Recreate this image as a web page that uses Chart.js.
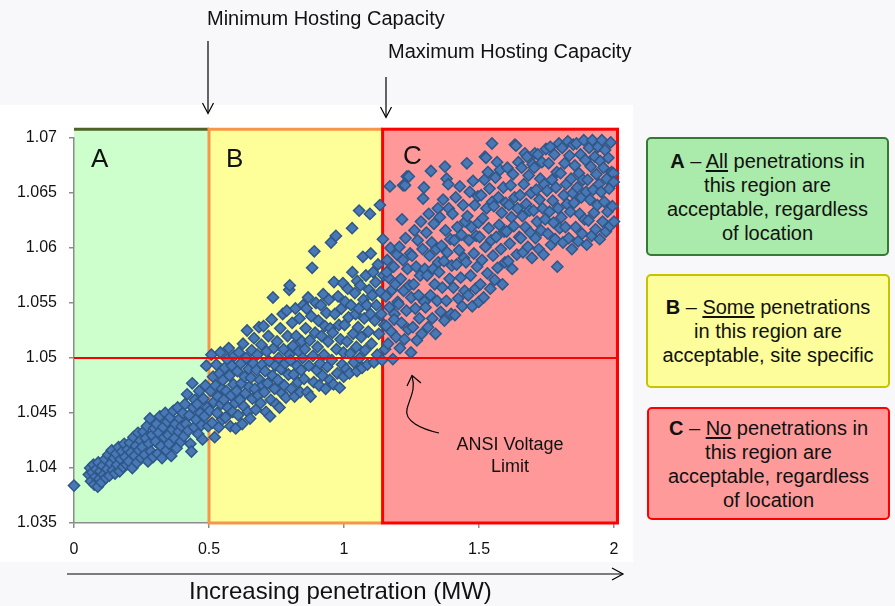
<!DOCTYPE html>
<html><head><meta charset="utf-8">
<script src="https://cdn.jsdelivr.net/npm/chart.js@4.4.1/dist/chart.umd.min.js"></script>
<style>
html,body{margin:0;padding:0;}
body{width:895px;height:606px;position:relative;overflow:hidden;background:#f8f8fb;font-family:"Liberation Sans",Arial,sans-serif;color:#111;}
#panel{position:absolute;left:0;top:105px;width:633px;height:457px;background:#fff;}
#c{position:absolute;left:0;top:0;}
.t{position:absolute;white-space:nowrap;}
.box{position:absolute;box-sizing:border-box;border-radius:5px;border:2px solid;display:flex;align-items:center;justify-content:center;text-align:center;font-size:20px;line-height:24px;}
.box u{text-decoration:underline;text-underline-offset:2px;}
svg{position:absolute;left:0;top:0;}
</style></head><body>
<div id="panel"></div>
<canvas id="c" width="640" height="606"></canvas>

<div class="t" style="left:207px;top:8px;font-size:20px;line-height:20px;">Minimum Hosting Capacity</div>
<div class="t" style="left:388px;top:41px;font-size:20px;line-height:20px;">Maximum Hosting Capacity</div>
<div class="t" style="left:189px;top:579px;font-size:24px;line-height:24px;">Increasing penetration (MW)</div>
<div class="t" style="left:91px;top:145px;font-size:26px;line-height:26px;">A</div>
<div class="t" style="left:226px;top:145px;font-size:26px;line-height:26px;">B</div>
<div class="t" style="left:403px;top:142px;font-size:26px;line-height:26px;">C</div>
<div class="t" style="left:430px;top:433px;width:160px;text-align:center;font-size:18px;line-height:22px;">ANSI Voltage<br>Limit</div>

<div class="box" style="left:646px;top:137px;width:243px;height:119px;background:#aaeaaa;border-color:#347a34;"><div><b>A</b> – <u>All</u> penetrations in<br>this region are<br>acceptable, regardless<br>of location</div></div>
<div class="box" style="left:646px;top:274px;width:244px;height:114px;background:#fdfd9b;border-color:#c4c400;"><div><b>B</b> – <u>Some</u> penetrations<br>in this region are<br>acceptable, site specific</div></div>
<div class="box" style="left:647px;top:407px;width:243px;height:113px;background:#ff9a9a;border-color:#ff0000;"><div><b>C</b> – <u>No</u> penetrations in<br>this region are<br>acceptable, regardless<br>of location</div></div>

<svg width="895" height="606" viewBox="0 0 895 606">
<g stroke="#000" stroke-width="1.2" fill="none">
<line x1="208" y1="41" x2="208" y2="113"/>
<polyline points="202.5,103 208,113.5 213.5,103"/>
<line x1="386" y1="77" x2="386" y2="117"/>
<polyline points="380.5,107 386,117.5 391.5,107"/>
<line x1="67" y1="574" x2="623" y2="574"/>
<polyline points="612,568 623,574 612,580"/>
<path d="M439,433 C421,429 404,421 407,409 C410,397 416,390 412,376"/>
<polyline points="407,386 412,375.5 421,383"/>
</g>
</svg>

<script>
// ---- data ----
const xTicks = [0, 0.5, 1, 1.5, 2];
const xTickLabels = ['0', '0.5', '1', '1.5', '2'];
const yTicks = [1.035, 1.04, 1.045, 1.05, 1.055, 1.06, 1.065, 1.07];
const yTickLabels = ['1.035', '1.04', '1.045', '1.05', '1.055', '1.06', '1.065', '1.07'];
const xMin = 0, xMax = 2, yMin = 1.035, yMax = 1.07;
const regionBounds = [0, 0.5, 1.143, 2.013];   // A | B | C  (MW)
const regionTopValue = 1.0708;
const ansiLimit = 1.05;

const ptsA = [
[0.000,1.0384],[0.055,1.0394],[0.060,1.0400],[0.063,1.0388],[0.068,1.0396],[0.072,1.0403],[0.075,1.0385],[0.080,1.0392],[0.083,1.0399],[0.088,1.0383],[0.090,1.0405],[0.094,1.0390],[0.098,1.0397],
[0.102,1.0387],[0.106,1.0402],[0.110,1.0394],[0.115,1.0408],[0.118,1.0391],[0.123,1.0399],[0.127,1.0412],[0.131,1.0393],[0.136,1.0404],[0.140,1.0416],[0.144,1.0398],[0.148,1.0409],
[0.152,1.0395],[0.156,1.0413],[0.160,1.0403],[0.165,1.0419],[0.169,1.0397],[0.173,1.0408],[0.178,1.0415],[0.182,1.0401],[0.186,1.0422],[0.190,1.0410],[0.195,1.0403],[0.199,1.0417],
[0.203,1.0406],[0.207,1.0423],[0.211,1.0414],[0.216,1.0400],[0.220,1.0428],[0.224,1.0411],[0.229,1.0420],[0.233,1.0405],[0.237,1.0432],[0.241,1.0416],[0.246,1.0425],[0.249,1.0409],
[0.253,1.0419],[0.257,1.0433],[0.262,1.0412],[0.266,1.0427],[0.270,1.0438],[0.274,1.0406],[0.278,1.0422],[0.281,1.0445],[0.285,1.0415],[0.289,1.0430],[0.293,1.0410],[0.297,1.0436],
[0.302,1.0424],[0.306,1.0440],[0.310,1.0413],[0.314,1.0432],[0.318,1.0447],[0.322,1.0420],[0.326,1.0409],[0.330,1.0437],[0.334,1.0428],[0.338,1.0450],[0.342,1.0416],[0.346,1.0442],[0.349,1.0430],
[0.352,1.0422],[0.356,1.0446],[0.360,1.0411],[0.364,1.0435],[0.368,1.0452],[0.372,1.0427],[0.376,1.0440],[0.380,1.0418],[0.384,1.0455],[0.388,1.0433],[0.392,1.0445],[0.396,1.0424],[0.399,1.0438],
[0.403,1.0450],[0.407,1.0429],[0.411,1.0458],[0.415,1.0440],[0.419,1.0467],[0.423,1.0434],[0.427,1.0448],[0.431,1.0422],[0.435,1.0415],[0.438,1.0477],[0.441,1.0455],[0.445,1.0437],[0.448,1.0462],
[0.452,1.0444],[0.456,1.0458],[0.460,1.0431],[0.464,1.0470],[0.468,1.0450],[0.472,1.0439],[0.476,1.0426],[0.479,1.0463],[0.483,1.0447],[0.487,1.0475],[0.490,1.0493],[0.493,1.0455],[0.497,1.0438]
];
const ptsB1 = [
[0.503,1.0452],[0.506,1.0470],[0.509,1.0503],[0.512,1.0441],[0.515,1.0483],[0.518,1.0460],[0.521,1.0428],[0.524,1.0475],[0.527,1.0494],[0.530,1.0450],[0.533,1.0465],[0.536,1.0437],[0.539,1.0486],[0.542,1.0505],[0.545,1.0458],[0.548,1.0472],[0.549,1.0444],
[0.552,1.0480],[0.555,1.0462],[0.558,1.0491],[0.561,1.0446],[0.564,1.0470],[0.567,1.0499],[0.570,1.0455],[0.573,1.0509],[0.576,1.0484],[0.579,1.0438],[0.582,1.0466],[0.585,1.0493],[0.588,1.0451],[0.591,1.0476],[0.594,1.0502],[0.597,1.0459],[0.599,1.0436],
[0.602,1.0470],[0.605,1.0488],[0.608,1.0448],[0.611,1.0505],[0.614,1.0462],[0.617,1.0495],[0.620,1.0477],[0.623,1.0440],[0.626,1.0513],[0.629,1.0456],[0.632,1.0483],[0.635,1.0468],[0.638,1.0500],[0.641,1.0525],[0.644,1.0451],[0.647,1.0490],[0.649,1.0474],
[0.652,1.0445],[0.655,1.0482],[0.658,1.0507],[0.661,1.0463],[0.664,1.0495],[0.667,1.0518],[0.670,1.0472],[0.673,1.0453],[0.676,1.0489],[0.679,1.0503],[0.682,1.0466],[0.685,1.0528],[0.688,1.0480],[0.691,1.0459],[0.694,1.0512],[0.697,1.0494],[0.699,1.0475],
[0.702,1.0529],[0.705,1.0469],[0.708,1.0488],[0.711,1.0451],[0.714,1.0506],[0.717,1.0477],[0.720,1.0520],[0.723,1.0497],[0.726,1.0447],[0.729,1.0462],[0.732,1.0535],[0.735,1.0484],[0.737,1.0555],[0.740,1.0509],[0.743,1.0472],[0.746,1.0493],[0.749,1.0458],
[0.752,1.0515],[0.755,1.0480],[0.758,1.0500],[0.761,1.0455],[0.764,1.0527],[0.767,1.0490],[0.770,1.0468],[0.773,1.0540],[0.776,1.0508],[0.779,1.0475],[0.782,1.0495],[0.785,1.0464],[0.788,1.0543],[0.791,1.0520],[0.794,1.0485],[0.797,1.0562],[0.799,1.0566],[0.798,1.0503],
[0.802,1.0498],[0.805,1.0472],[0.808,1.0532],[0.811,1.0511],[0.814,1.0485],[0.817,1.0465],[0.820,1.0545],[0.823,1.0520],[0.826,1.0493],[0.829,1.0478],[0.832,1.0506],[0.835,1.0536],[0.838,1.0469],[0.841,1.0489],[0.844,1.0515],[0.847,1.0500],[0.849,1.0548]
];
const ptsB2 = [
[0.852,1.0481],[0.855,1.0508],[0.858,1.0527],[0.861,1.0545],[0.864,1.0469],[0.867,1.0555],[0.870,1.0493],[0.873,1.0516],[0.876,1.0465],[0.879,1.0538],[0.882,1.0582],[0.885,1.0502],[0.888,1.0478],[0.890,1.0597],[0.893,1.0523],[0.896,1.0550],[0.899,1.0489],
[0.902,1.0510],[0.905,1.0534],[0.908,1.0475],[0.911,1.0495],[0.914,1.0548],[0.917,1.0520],[0.920,1.0484],[0.923,1.0558],[0.926,1.0503],[0.929,1.0529],[0.932,1.0472],[0.935,1.0541],[0.938,1.0492],[0.941,1.0515],[0.944,1.0553],[0.947,1.0480],[0.949,1.0527],
[0.952,1.0605],[0.955,1.0498],[0.958,1.0523],[0.961,1.0476],[0.963,1.0569],[0.966,1.0540],[0.970,1.0611],[0.972,1.0508],[0.975,1.0486],[0.978,1.0556],[0.981,1.0530],[0.984,1.0473],[0.987,1.0517],[0.990,1.0545],[0.993,1.0494],[0.996,1.0568],[0.998,1.0505],[0.999,1.0483],
[1.002,1.0530],[1.005,1.0551],[1.008,1.0490],[1.011,1.0515],[1.014,1.0563],[1.017,1.0537],[1.020,1.0486],[1.023,1.0504],[1.026,1.0548],[1.030,1.0618],[1.031,1.0578],[1.034,1.0522],[1.037,1.0496],[1.040,1.0559],[1.043,1.0540],[1.046,1.0510],[1.049,1.0570],[1.048,1.0488],
[1.052,1.0528],[1.055,1.0545],[1.056,1.0634],[1.058,1.0500],[1.061,1.0566],[1.064,1.0519],[1.067,1.0491],[1.070,1.0592],[1.072,1.0553],[1.075,1.0536],[1.078,1.0507],[1.081,1.0575],[1.084,1.0548],[1.087,1.0494],[1.090,1.0524],[1.093,1.0562],[1.096,1.0631],[1.098,1.0540],[1.099,1.0595],
[1.102,1.0513],[1.105,1.0557],[1.108,1.0578],[1.111,1.0496],[1.114,1.0534],[1.117,1.0569],[1.120,1.0548],[1.123,1.0503],[1.126,1.0585],[1.129,1.0522],[1.133,1.0639],[1.135,1.0560],[1.138,1.0540],[1.141,1.0498],[1.144,1.0608],[1.146,1.0575],[1.149,1.0530]
];
const ptsC1 = [
[1.152,1.0508],[1.155,1.0556],[1.157,1.0529],[1.160,1.0589],[1.163,1.0513],[1.165,1.0573],[1.168,1.0546],[1.170,1.0656],[1.172,1.0600],[1.175,1.0524],[1.178,1.0562],[1.181,1.0499],[1.184,1.0583],[1.187,1.0540],[1.190,1.0567],[1.193,1.0519],[1.196,1.0594],[1.199,1.0551],[1.186,1.0535],[1.158,1.0578],
[1.202,1.0549],[1.205,1.0601],[1.207,1.0509],[1.210,1.0572],[1.213,1.0532],[1.215,1.0626],[1.218,1.0589],[1.219,1.0657],[1.221,1.0561],[1.224,1.0517],[1.226,1.0657],[1.228,1.0609],[1.231,1.0543],[1.233,1.0665],[1.235,1.0581],[1.238,1.0526],[1.240,1.0665],[1.242,1.0566],[1.245,1.0595],[1.248,1.0505],[1.249,1.0555],
[1.252,1.0593],[1.255,1.0528],[1.258,1.0567],[1.261,1.0616],[1.264,1.0545],[1.267,1.0583],[1.270,1.0516],[1.273,1.0607],[1.276,1.0557],[1.279,1.0536],[1.282,1.0575],[1.285,1.0624],[1.288,1.0522],[1.291,1.0599],[1.293,1.0645],[1.296,1.0655],[1.298,1.0551],[1.299,1.0581],
[1.302,1.0546],[1.305,1.0614],[1.308,1.0575],[1.311,1.0528],[1.314,1.0631],[1.317,1.0593],[1.320,1.0557],[1.322,1.0670],[1.325,1.0605],[1.327,1.0536],[1.330,1.0581],[1.333,1.0622],[1.336,1.0567],[1.339,1.0522],[1.342,1.0599],[1.345,1.0552],[1.348,1.0636],[1.349,1.0587],
[1.352,1.0578],[1.355,1.0628],[1.358,1.0542],[1.361,1.0602],[1.364,1.0564],[1.367,1.0644],[1.370,1.0588],[1.372,1.0534],[1.374,1.0674],[1.376,1.0616],[1.379,1.0552],[1.380,1.0663],[1.382,1.0596],[1.386,1.0658],[1.388,1.0636],[1.391,1.0572],[1.394,1.0608],[1.397,1.0540],[1.399,1.0584],
[1.402,1.0631],[1.405,1.0564],[1.408,1.0607],[1.411,1.0539],[1.414,1.0646],[1.417,1.0585],[1.420,1.0619],[1.423,1.0554],[1.426,1.0598],[1.429,1.0656],[1.432,1.0573],[1.435,1.0612],[1.438,1.0547],[1.441,1.0639],[1.444,1.0591],[1.447,1.0561],[1.449,1.0624],
[1.452,1.0587],[1.455,1.0677],[1.457,1.0629],[1.460,1.0557],[1.463,1.0607],[1.466,1.0651],[1.469,1.0575],[1.472,1.0619],[1.475,1.0547],[1.478,1.0661],[1.481,1.0595],[1.484,1.0639],[1.487,1.0563],[1.490,1.0611],[1.493,1.0583],[1.496,1.0647],[1.499,1.0551],[1.498,1.0623]
];
const ptsC2 = [
[1.502,1.0610],[1.505,1.0567],[1.508,1.0648],[1.511,1.0589],[1.514,1.0627],[1.517,1.0555],[1.520,1.0662],[1.522,1.0683],[1.524,1.0601],[1.526,1.0682],[1.528,1.0636],[1.531,1.0577],[1.533,1.0669],[1.536,1.0618],[1.539,1.0654],[1.542,1.0563],[1.545,1.0607],[1.548,1.0695],[1.549,1.0642],
[1.552,1.0593],[1.555,1.0638],[1.558,1.0571],[1.561,1.0664],[1.564,1.0610],[1.567,1.0678],[1.569,1.0582],[1.572,1.0646],[1.575,1.0621],[1.578,1.0671],[1.581,1.0599],[1.584,1.0632],[1.587,1.0567],[1.590,1.0655],[1.593,1.0615],[1.596,1.0587],[1.599,1.0641],
[1.602,1.0615],[1.605,1.0673],[1.608,1.0588],[1.611,1.0639],[1.614,1.0604],[1.617,1.0657],[1.620,1.0628],[1.623,1.0581],[1.626,1.0667],[1.629,1.0620],[1.632,1.0646],[1.633,1.0694],[1.637,1.0693],[1.640,1.0594],[1.643,1.0636],[1.646,1.0678],[1.649,1.0610],
[1.652,1.0648],[1.655,1.0609],[1.658,1.0673],[1.661,1.0629],[1.663,1.0596],[1.666,1.0658],[1.670,1.0686],[1.672,1.0619],[1.675,1.0640],[1.678,1.0683],[1.681,1.0601],[1.684,1.0666],[1.687,1.0634],[1.690,1.0614],[1.693,1.0650],[1.696,1.0591],[1.699,1.0676],
[1.702,1.0634],[1.705,1.0673],[1.707,1.0686],[1.709,1.0609],[1.712,1.0653],[1.715,1.0624],[1.718,1.0685],[1.721,1.0599],[1.724,1.0644],[1.727,1.0663],[1.730,1.0616],[1.733,1.0678],[1.736,1.0636],[1.739,1.0594],[1.742,1.0658],[1.745,1.0626],[1.748,1.0690]
];
const ptsC3 = [
[1.752,1.0652],[1.755,1.0613],[1.758,1.0677],[1.761,1.0633],[1.764,1.0692],[1.767,1.0603],[1.770,1.0662],[1.773,1.0643],[1.776,1.0623],[1.779,1.0685],[1.782,1.0608],[1.785,1.0655],[1.788,1.0669],[1.790,1.0583],[1.793,1.0636],[1.796,1.0695],[1.799,1.0618],
[1.802,1.0668],[1.805,1.0628],[1.808,1.0691],[1.811,1.0605],[1.814,1.0648],[1.817,1.0677],[1.820,1.0619],[1.823,1.0658],[1.826,1.0640],[1.829,1.0697],[1.832,1.0609],[1.835,1.0684],[1.838,1.0633],[1.841,1.0663],[1.844,1.0599],[1.847,1.0650],[1.849,1.0694],
[1.852,1.0641],[1.855,1.0675],[1.858,1.0619],[1.861,1.0695],[1.864,1.0655],[1.867,1.0606],[1.870,1.0668],[1.873,1.0631],[1.876,1.0685],[1.879,1.0646],[1.882,1.0613],[1.885,1.0662],[1.888,1.0698],[1.891,1.0626],[1.894,1.0680],[1.897,1.0651],[1.899,1.0603],
[1.902,1.0662],[1.905,1.0625],[1.908,1.0691],[1.911,1.0644],[1.914,1.0674],[1.917,1.0611],[1.920,1.0698],[1.923,1.0653],[1.926,1.0632],[1.929,1.0683],[1.932,1.0617],[1.935,1.0667],[1.938,1.0639],[1.941,1.0692],[1.944,1.0658],[1.947,1.0608],[1.949,1.0679],
[1.952,1.0651],[1.955,1.0698],[1.958,1.0624],[1.961,1.0673],[1.964,1.0642],[1.967,1.0689],[1.970,1.0615],[1.973,1.0663],[1.976,1.0633],[1.979,1.0682],[1.982,1.0654],[1.985,1.0620],[1.988,1.0696],[1.991,1.0669],[1.994,1.0638],[1.997,1.0668],[1.999,1.0660],[2.000,1.0624]
];

// ---- chart ----
const allPts = [...ptsA, ...ptsB1, ...ptsB2, ...ptsC1, ...ptsC2, ...ptsC3].map(p => ({x: p[0], y: p[1]}));
const regionFills = ['#ccffcc', '#ffff99', '#ff9999'];

const regionPlugin = {
  id: 'regions',
  beforeDraw(chart) {
    const {ctx, scales: {x, y}} = chart;
    const top = y.getPixelForValue(regionTopValue), bot = y.getPixelForValue(yMin);
    ctx.save();
    for (let i = 0; i < 3; i++) {
      const x0 = x.getPixelForValue(regionBounds[i]), x1 = x.getPixelForValue(regionBounds[i + 1]);
      ctx.fillStyle = regionFills[i];
      ctx.fillRect(x0, top, x1 - x0, bot - top);
    }
    ctx.restore();
  },
  beforeDatasetsDraw(chart) {
    const {ctx, scales: {x, y}} = chart;
    const top = y.getPixelForValue(regionTopValue), bot = y.getPixelForValue(yMin);
    const xa = regionBounds.map(v => x.getPixelForValue(v));
    ctx.save();
    ctx.lineWidth = 3;
    ctx.strokeStyle = '#4f6228';
    ctx.beginPath(); ctx.moveTo(xa[0], top); ctx.lineTo(xa[1], top); ctx.stroke();
    ctx.strokeStyle = '#f79646';
    ctx.beginPath();
    ctx.moveTo(xa[2], top); ctx.lineTo(xa[1], top); ctx.lineTo(xa[1], bot); ctx.lineTo(xa[2], bot);
    ctx.stroke();
    ctx.strokeStyle = '#ff0000';
    ctx.strokeRect(xa[2], top, xa[3] - xa[2], bot - top);
    ctx.restore();
  },
  afterDatasetsDraw(chart) {
    const {ctx, scales: {x, y}} = chart;
    const yy = y.getPixelForValue(ansiLimit);
    ctx.save();
    ctx.strokeStyle = '#ff0000';
    ctx.lineWidth = 2;
    ctx.beginPath();
    ctx.moveTo(x.getPixelForValue(xMin), yy);
    ctx.lineTo(x.getPixelForValue(regionBounds[3]), yy);
    ctx.stroke();
    ctx.restore();
  }
};

const tickFont = {family: '"Liberation Sans", Arial, sans-serif', size: 16};

new Chart(document.getElementById('c'), {
  type: 'scatter',
  data: {
    datasets: [{
      data: allPts,
      pointStyle: 'rectRot',
      pointRadius: 5.6,
      pointBorderWidth: 1.5,
      backgroundColor: '#4878b6',
      borderColor: '#2f5788',
      clip: false
    }]
  },
  options: {
    responsive: false,
    animation: false,
    events: [],
    layout: {padding: {left: 0, right: 26, top: 138, bottom: 33}},
    plugins: {legend: {display: false}, tooltip: {enabled: false}},
    scales: {
      x: {
        type: 'linear', min: xMin, max: xMax,
        afterFit(s) { s.height = 50; },
        afterBuildTicks(s) { s.ticks = xTicks.map(v => ({value: v})); },
        ticks: {callback: (v, i) => xTickLabels[i], font: tickFont, color: '#111', padding: 12, maxRotation: 0},
        grid: {display: true, drawOnChartArea: false, drawTicks: true, tickLength: 5, color: '#8c8c8c', lineWidth: 1.5},
        border: {display: true, color: '#8c8c8c', width: 1.5}
      },
      y: {
        type: 'linear', min: yMin, max: yMax,
        afterFit(s) { s.width = 74; },
        afterBuildTicks(s) { s.ticks = yTicks.map(v => ({value: v})); },
        ticks: {callback: (v, i) => yTickLabels[i], font: tickFont, color: '#111', padding: 12},
        grid: {display: true, drawOnChartArea: false, drawTicks: true, tickLength: 5, color: '#8c8c8c', lineWidth: 1.5},
        border: {display: true, color: '#8c8c8c', width: 1.5}
      }
    }
  },
  plugins: [regionPlugin]
});
</script>
</body></html>
